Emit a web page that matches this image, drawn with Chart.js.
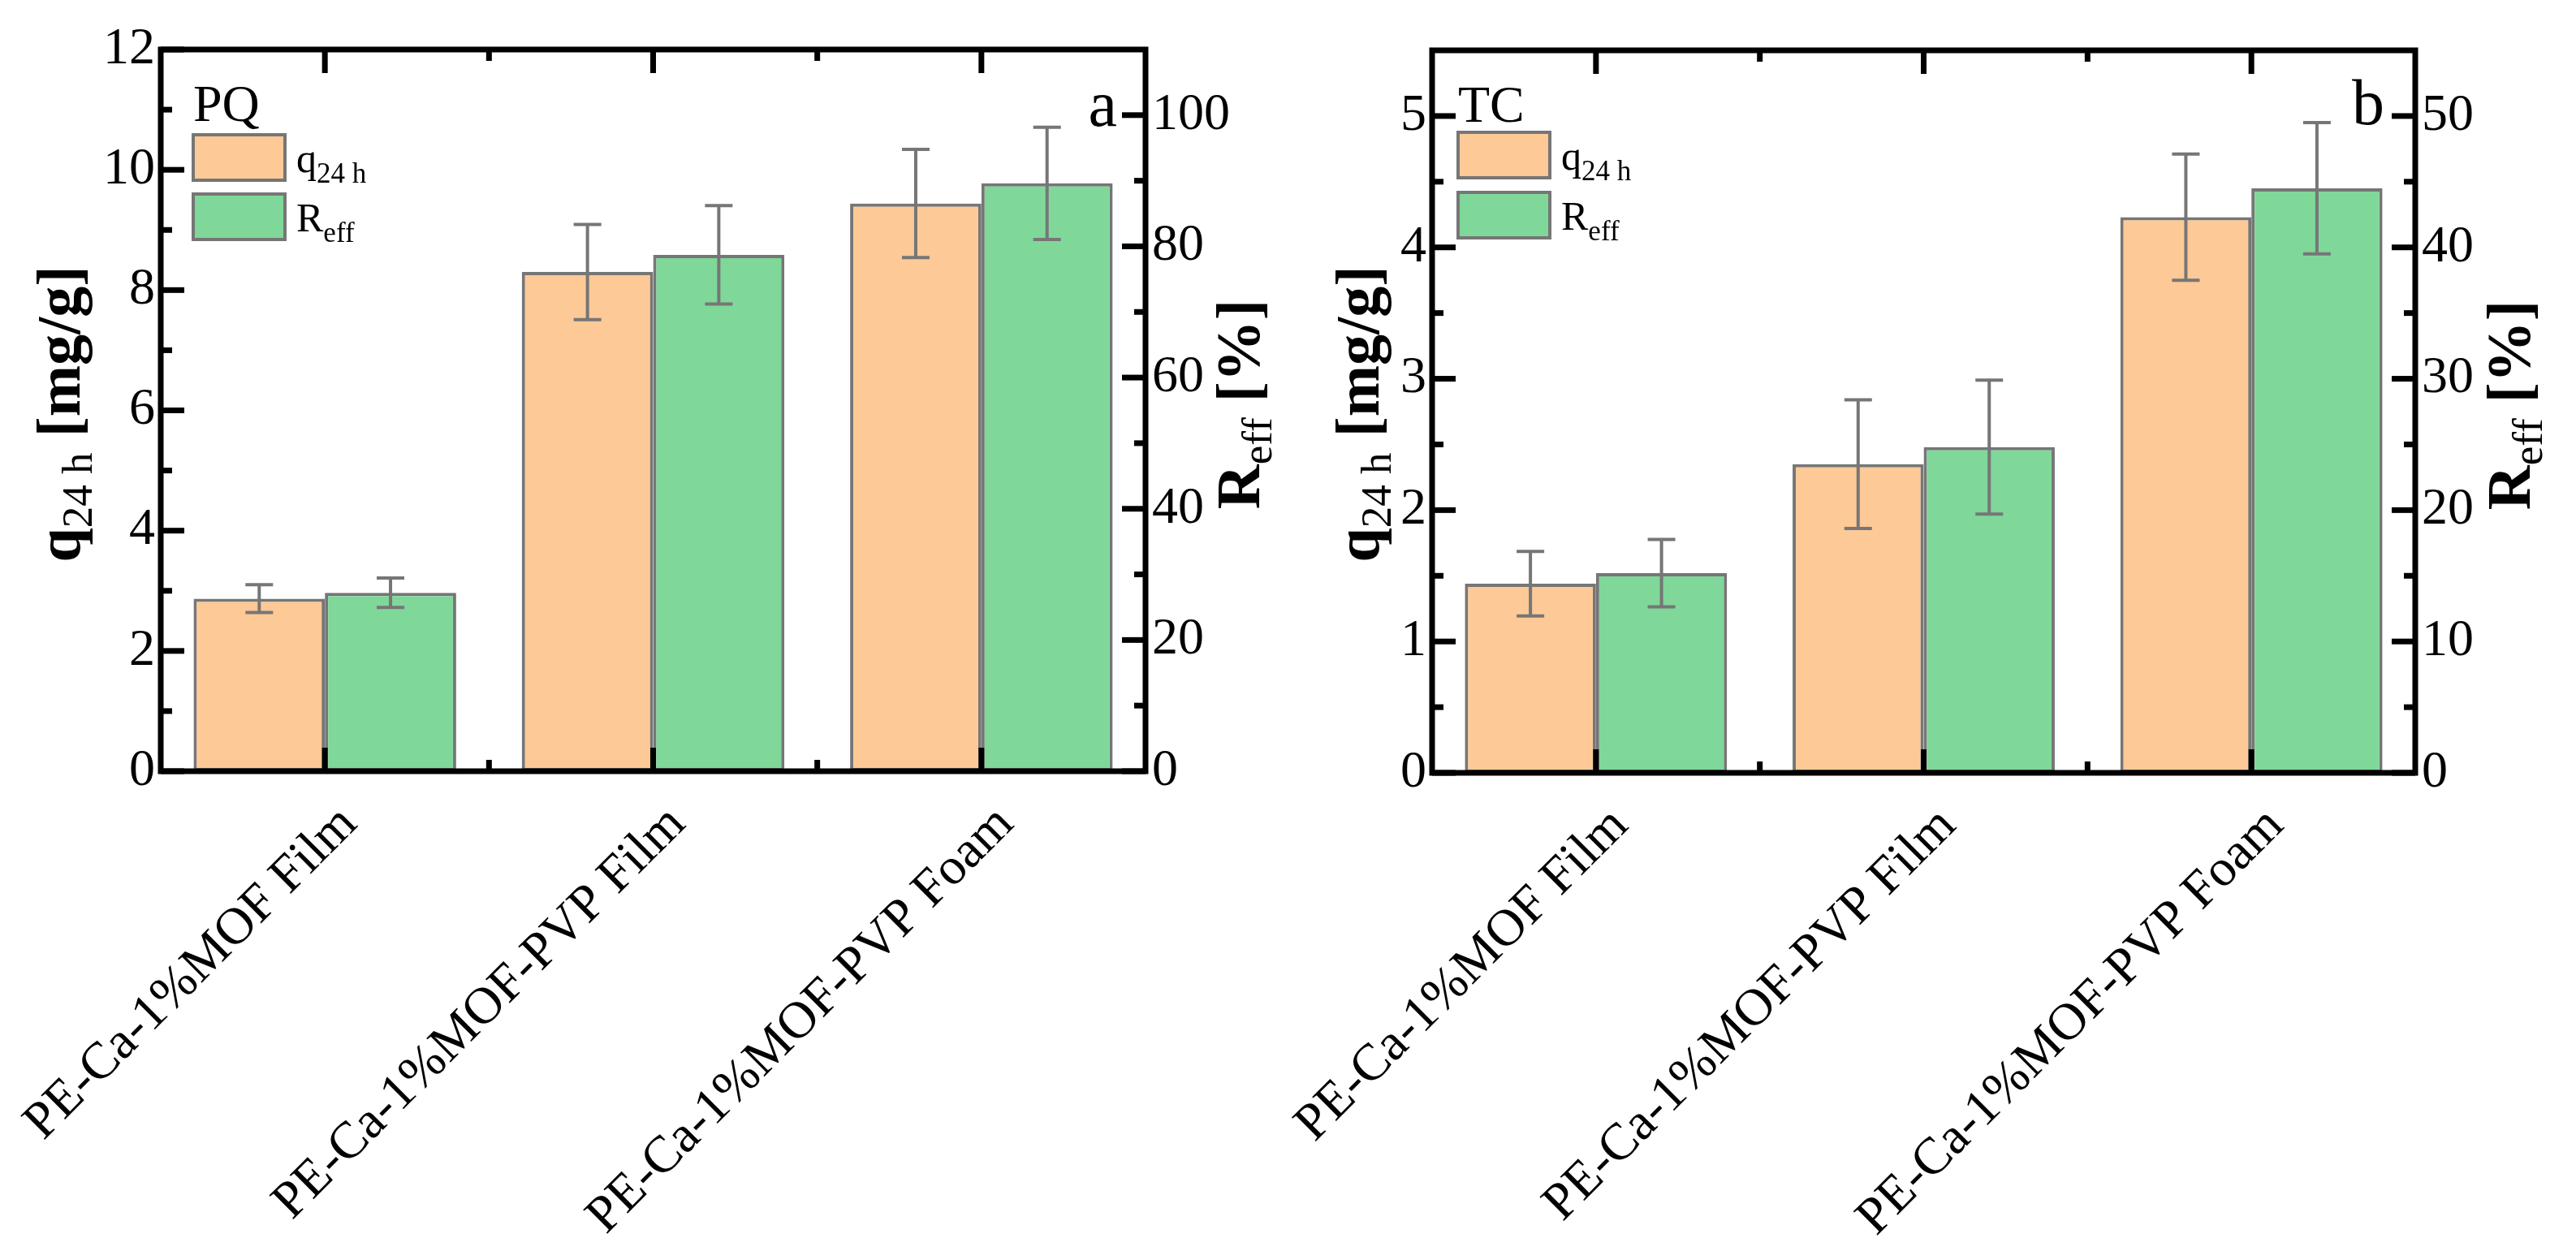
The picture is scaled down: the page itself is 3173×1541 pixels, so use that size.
<!DOCTYPE html>
<html>
<head>
<meta charset="utf-8">
<script src="https://cdn.jsdelivr.net/npm/chart.js@4.4.1/dist/chart.umd.min.js"></script>
<style>
body{margin:0;background:#fff;}
#wrap{position:relative;width:3173px;height:1541px;}
canvas{position:absolute;top:0;}
</style>
</head>
<body>
<div id="wrap">
<canvas id="chartPQ" width="1586" height="1541" style="left:0px"></canvas>
<canvas id="chartTC" width="1587" height="1541" style="left:1586px"></canvas>
</div>
<script>
// categories (same for both panels)
const categories = ["PE-Ca-1%MOF Film", "PE-Ca-1%MOF-PVP Film", "PE-Ca-1%MOF-PVP Foam"];

// panel a - PQ
const pqQ = [2.87, 8.30, 9.44];
const pqQErr = [0.23, 0.79, 0.90];
const pqR = [27.2, 78.7, 89.6];
const pqRErr = [2.25, 7.5, 8.55];
const pqLeftTicks = [0, 2, 4, 6, 8, 10, 12];
const pqRightTicks = [0, 20, 40, 60, 80, 100];

// panel b - TC
const tcQ = [1.44, 2.35, 4.23];
const tcQErr = [0.245, 0.49, 0.48];
const tcR = [15.2, 24.8, 44.5];
const tcRErr = [2.57, 5.1, 5.0];
const tcLeftTicks = [0, 1, 2, 3, 4, 5];
const tcRightTicks = [0, 10, 20, 30, 40, 50];

const ORANGE = "#FDC996";
const GREEN = "#7FD899";
const GRAY = "#767676";
const SERIF = '"Liberation Serif", "Times New Roman", serif';

function drawRuns(ctx, runs, x, y, align){
    let total = 0;
    runs.forEach(r => { ctx.font = r.font; r.w = ctx.measureText(r.t).width; total += r.w; });
    let cx = align === "center" ? x - total / 2 : x;
    ctx.textAlign = "left";
    ctx.textBaseline = "alphabetic";
    runs.forEach(r => { ctx.font = r.font; ctx.fillText(r.t, cx, y + (r.dy || 0)); cx += r.w; });
}

function minorValues(ticks, max){
    const step = ticks[1] - ticks[0];
    const out = [];
    ticks.forEach(v => { if (v + step / 2 < max) out.push(v + step / 2); });
    return out;
}

// error bars
const errorBarPlugin = {
    id: "errorBars",
    afterDatasetsDraw(chart){
        const ctx = chart.ctx;
        ctx.save();
        ctx.strokeStyle = GRAY;
        ctx.lineWidth = 4;
        chart.data.datasets.forEach((ds, di) => {
            const meta = chart.getDatasetMeta(di);
            const sc = chart.scales[ds.yAxisID];
            meta.data.forEach((bar, i) => {
                const v = ds.data[i], e = ds.errors[i];
                const yt = sc.getPixelForValue(v + e);
                const yb = sc.getPixelForValue(v - e);
                const cap = 17;
                ctx.beginPath();
                ctx.moveTo(bar.x, yt); ctx.lineTo(bar.x, yb);
                ctx.moveTo(bar.x - cap, yt); ctx.lineTo(bar.x + cap, yt);
                ctx.moveTo(bar.x - cap, yb); ctx.lineTo(bar.x + cap, yb);
                ctx.stroke();
            });
        });
        ctx.restore();
    }
};

// frame, inward ticks, titles, legend
const decorPlugin = {
    id: "decor",
    afterDraw(chart){
        const ctx = chart.ctx;
        const a = chart.chartArea;
        const L = chart.options.plugins.decor;
        const yl = chart.scales.yL, yr = chart.scales.yR, x = chart.scales.x;
        const MAJ = 29, MIN = 14;
        ctx.save();
        ctx.strokeStyle = "#000";
        ctx.lineWidth = 7;
        const seg = (x1, y1, x2, y2) => { ctx.beginPath(); ctx.moveTo(x1, y1); ctx.lineTo(x2, y2); ctx.stroke(); };

        L.leftTicks.forEach(v => { const p = yl.getPixelForValue(v); seg(a.left, p, a.left + MAJ, p); });
        minorValues(L.leftTicks, yl.max).forEach(v => { const p = yl.getPixelForValue(v); seg(a.left, p, a.left + MIN, p); });
        L.rightTicks.forEach(v => { const p = yr.getPixelForValue(v); seg(a.right, p, a.right - MAJ, p); });
        minorValues(L.rightTicks, yr.max).forEach(v => { const p = yr.getPixelForValue(v); seg(a.right, p, a.right - MIN, p); });

        for (let i = 0; i < categories.length; i++){
            const p = x.getPixelForValue(i);
            seg(p, a.bottom, p, a.bottom - MAJ);
            seg(p, a.top, p, a.top + MAJ);
            if (i < categories.length - 1){
                const m = (p + x.getPixelForValue(i + 1)) / 2;
                seg(m, a.bottom, m, a.bottom - MIN);
                seg(m, a.top, m, a.top + MIN);
            }
        }
        ctx.strokeRect(a.left, a.top, a.right - a.left, a.bottom - a.top);

        ctx.fillStyle = "#000";
        // axis titles
        const big = "bold 76px " + SERIF, sub = "53px " + SERIF;
        ctx.save();
        ctx.translate(L.titleLX, L.titleLY);
        ctx.rotate(-Math.PI / 2);
        drawRuns(ctx, [{t: "q", font: big}, {t: "24 h", font: sub, dy: 15}, {t: " [mg/g]", font: big}], 0, 0, "center");
        ctx.restore();
        ctx.save();
        ctx.translate(L.titleRX, L.titleRY);
        ctx.rotate(-Math.PI / 2);
        drawRuns(ctx, [{t: "R", font: big}, {t: "eff", font: sub, dy: 15}, {t: " [%]", font: big}], 0, 0, "center");
        ctx.restore();

        // panel name + letter
        ctx.font = "64px " + SERIF;
        ctx.textAlign = "left";
        ctx.textBaseline = "alphabetic";
        ctx.fillText(L.name, L.legX, L.nameY);
        ctx.font = "80px " + SERIF;
        ctx.textAlign = "right";
        ctx.fillText(L.letter, L.letterX, L.letterY);

        // legend
        ctx.lineWidth = 4;
        ctx.strokeStyle = GRAY;
        const boxes = [
            {c: ORANGE, y: L.legY1, runs: [{t: "q", font: "50px " + SERIF}, {t: "24 h", font: "35px " + SERIF, dy: 13}]},
            {c: GREEN, y: L.legY2, runs: [{t: "R", font: "50px " + SERIF}, {t: "eff", font: "35px " + SERIF, dy: 13}]}
        ];
        boxes.forEach(b => {
            ctx.fillStyle = b.c;
            ctx.fillRect(L.legX, b.y, 113, 56);
            ctx.strokeRect(L.legX, b.y, 113, 56);
            ctx.fillStyle = "#000";
            drawRuns(ctx, b.runs, L.legX + 127, b.y + 46, "left");
        });
        ctx.restore();
    }
};

function makeChart(id, q, qErr, r, rErr, leftTicks, rightTicks, leftMax, rightMax, L){
    const yAxis = (ticks, max, pos, width, pad) => ({
        type: "linear",
        position: pos,
        min: 0,
        max: max,
        grid: {display: false, drawTicks: false},
        border: {display: false},
        afterBuildTicks: s => { s.ticks = ticks.map(v => ({value: v})); },
        afterFit: s => { s.width = width; },
        ticks: {color: "#000", padding: pad, font: {family: SERIF, size: 64}}
    });
    L.leftTicks = leftTicks;
    L.rightTicks = rightTicks;
    return new Chart(document.getElementById(id), {
        type: "bar",
        data: {
            labels: categories,
            datasets: [
                {label: "q24 h", data: q, errors: qErr, yAxisID: "yL",
                 backgroundColor: ORANGE, borderColor: GRAY, borderWidth: 4, borderSkipped: false,
                 categoryPercentage: 0.8, barPercentage: 1.0},
                {label: "Reff", data: r, errors: rErr, yAxisID: "yR",
                 backgroundColor: GREEN, borderColor: GRAY, borderWidth: 4, borderSkipped: false,
                 categoryPercentage: 0.8, barPercentage: 1.0}
            ]
        },
        options: {
            responsive: false,
            devicePixelRatio: 1,
            animation: false,
            layout: {padding: {top: L.top, left: 0, right: 0, bottom: 0}},
            plugins: {
                legend: {display: false},
                tooltip: {enabled: false},
                decor: L
            },
            scales: {
                x: {
                    type: "category",
                    offset: true,
                    grid: {display: false, drawTicks: false},
                    border: {display: false},
                    afterFit: s => { s.height = L.xH; s.paddingLeft = 0; s.paddingRight = 0; },
                    ticks: {color: "#000", autoSkip: false, minRotation: 45, maxRotation: 45,
                            padding: 28, labelOffset: 30, font: {family: SERIF, size: 64}}
                },
                yL: yAxis(leftTicks, leftMax, "left", L.leftW, 7),
                yR: yAxis(rightTicks, rightMax, "right", L.rightW, 8)
            }
        },
        plugins: [errorBarPlugin, decorPlugin]
    });
}

makeChart("chartPQ", pqQ, pqQErr, pqR, pqRErr, pqLeftTicks, pqRightTicks, 12, 110, {
    top: 61, leftW: 198, rightW: 175, xH: 591,
    titleLX: 98, titleLY: 510, titleRX: 1551, titleRY: 498,
    name: "PQ", nameY: 149, letter: "a", letterX: 1376, letterY: 155,
    legX: 238, legY1: 166, legY2: 239
});

makeChart("chartTC", tcQ, tcQErr, tcR, tcRErr, tcLeftTicks, tcRightTicks, 5.5, 55, {
    top: 62, leftW: 178, rightW: 198, xH: 589,
    titleLX: 112, titleLY: 510, titleRX: 1530, titleRY: 499,
    name: "TC", nameY: 150, letter: "b", letterX: 1351, letterY: 153,
    legX: 210, legY1: 163, legY2: 237
});
</script>
</body>
</html>
